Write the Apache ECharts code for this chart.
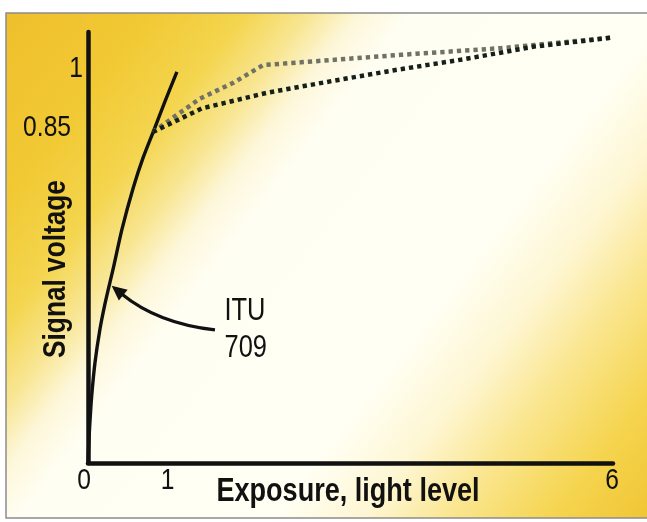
<!DOCTYPE html>
<html>
<head>
<meta charset="utf-8">
<script src="https://cdn.jsdelivr.net/npm/echarts@6/dist/echarts.min.js"></script>
<style>
html,body{margin:0;padding:0;background:#fff;}
#main{width:647px;height:522px;}
</style>
</head>
<body>
<div id="main"></div>
<script>
// ITU 709 curve (solid)
var ituX = [0, 0.004, 0.01, 0.025, 0.042, 0.08, 0.137, 0.195, 0.252, 0.29, 0.39, 0.519, 0.63, 0.748, 0.88, 1.016];
var ituY = [0, 0.025, 0.055, 0.115, 0.17, 0.255, 0.34, 0.405, 0.46, 0.495, 0.595, 0.70, 0.775, 0.842, 0.918, 0.993];
// knee curve, dark dotted
var darkX = [0.74, 1.3, 2.05, 2.8, 3.5, 4.3, 5.1, 6.0];
var darkY = [0.84, 0.90, 0.94, 0.97, 0.997, 1.025, 1.057, 1.08];
// knee curve, grey dotted
var greyX = [0.74, 1.28, 1.66, 2.0, 2.43, 3.57, 4.72, 5.1, 6.0];
var greyY = [0.84, 0.925, 0.965, 1.01, 1.017, 1.036, 1.053, 1.061, 1.08];
// tick labels
var xTicks = [0, 1, 6];
var xTickText = ['0', '1', '6'];
var yTicks = [0.85, 1];
var yTickText = ['0.85', '1'];
var xTitle = 'Exposure, light level';
var yTitle = 'Signal voltage';
var annText = ['ITU', '709'];

function pairs(xs, ys){ return xs.map(function(x,i){ return [x, ys[i]]; }); }

var FF = '"Liberation Sans", Arial, sans-serif';
var NARROW = 0.82;
var chart = echarts.init(document.getElementById('main'), null, {renderer:'canvas'});

var bg = new echarts.graphic.LinearGradient(0, 0, 1, 1, [
  {offset:0, color:'#EFBF2C'},
  {offset:0.14, color:'#F1C934'},
  {offset:0.23, color:'#F4D54E'},
  {offset:0.29, color:'#F8E590'},
  {offset:0.34, color:'#FDF7DA'},
  {offset:0.39, color:'#FFFEF3'},
  {offset:0.63, color:'#FFFFF4'},
  {offset:0.72, color:'#FEF6D2'},
  {offset:0.80, color:'#FAE690'},
  {offset:0.90, color:'#F5D44E'},
  {offset:1, color:'#F0C432'}
]);

var option = {
  backgroundColor:'#ffffff',
  animation:false,
  grid:{left:88, right:34, top:32, bottom:59, containLabel:false},
  xAxis:{
    type:'value', min:0, max:6,
    axisLine:{show:true, lineStyle:{color:'#111', width:4.5}},
    axisTick:{show:false},
    splitLine:{show:false},
    axisLabel:{show:false}
  },
  yAxis:{
    type:'value', min:0, max:1.094,
    axisLine:{show:true, lineStyle:{color:'#111', width:4.5}},
    axisTick:{show:false},
    splitLine:{show:false},
    axisLabel:{show:false}
  },
  series:[
    {type:'line', data:pairs(ituX, ituY), showSymbol:false, smooth:0.3,
     lineStyle:{color:'#111', width:3.4}, z:3},
    {type:'line', data:pairs(greyX, greyY), showSymbol:false,
     lineStyle:{color:'#707266', width:4.5, type:[4.3,4], cap:'butt'}, z:4},
    {type:'line', data:pairs(darkX, darkY), showSymbol:false,
     lineStyle:{color:'#15201b', width:4.5, type:[4.3,4], cap:'butt'}, z:5}
  ]
};
chart.setOption(option);

function px(x, y){ return chart.convertToPixel({gridIndex:0}, [x, y]); }
function ntext(x, y, txt, size, weight, align, extra){
  var o = {type:'text', x:x, y:y, z:10, scaleX:NARROW,
    style:{text:txt, fontFamily:FF, fontWeight:weight, fontSize:size, fill:'#111', align:align, verticalAlign:'middle'}};
  if (extra) for (var k in extra) o[k] = extra[k];
  return o;
}

var g = [];
g.push({type:'rect', z:-10, shape:{x:6, y:13, width:650, height:505},
  style:{fill:bg, stroke:'#8c8c8c', lineWidth:1.5}});
// x tick labels
var xNudge = [-4, -8, -1];
xTicks.forEach(function(v, i){
  var p = px(v, 0);
  g.push(ntext(p[0] + xNudge[i], p[1] + 18, xTickText[i], 30, 'normal', 'center'));
});
// y tick labels
var yRight = [71, 83];
yTicks.forEach(function(v, i){
  var p = px(0, v);
  g.push(ntext(yRight[i], p[1], yTickText[i], 30, 'normal', 'right'));
});
// axis titles
g.push(ntext(348, 492, xTitle, 33, 'bold', 'center'));
g.push(ntext(56, 269, yTitle, 32, 'bold', 'center', {rotation:Math.PI/2}));

// annotation arrow anchored in data coordinates
var head = px(0.27, 0.45);
var ctrl = px(0.80, 0.354);
var tail = px(1.451, 0.338);
var lbl = px(1.56, 0.392);
var ux = head[0]-ctrl[0], uy = head[1]-ctrl[1];
var ul = Math.sqrt(ux*ux+uy*uy); ux/=ul; uy/=ul;
var L = 15, W = 7;
var bx = head[0]-L*ux, by = head[1]-L*uy;
var nx = -uy, ny = ux;
g.push({type:'bezierCurve', z:10, shape:{x1:tail[0], y1:tail[1], cpx1:ctrl[0], cpy1:ctrl[1], x2:bx+2*ux, y2:by+2*uy},
  style:{stroke:'#111', lineWidth:3.2, fill:null}});
g.push({type:'polygon', z:10, shape:{points:[[head[0],head[1]],[bx+W*nx,by+W*ny],[bx-W*nx,by-W*ny]]},
  style:{fill:'#111'}});
g.push(ntext(lbl[0], lbl[1] + 3, annText[0], 31, 'normal', 'left'));
g.push(ntext(lbl[0], lbl[1] + 40, annText[1], 31, 'normal', 'left'));

chart.setOption({graphic: g});
</script>
</body>
</html>
